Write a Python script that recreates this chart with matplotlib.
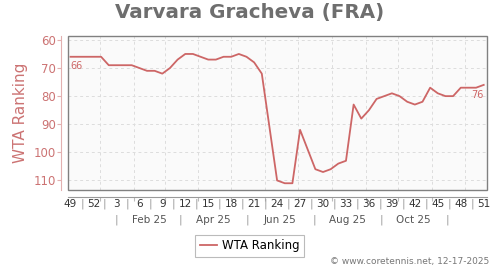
import matplotlib
matplotlib.use("Agg")
import matplotlib.pyplot as plt
import matplotlib.dates as mdates
from matplotlib.patches import Rectangle
from matplotlib.transforms import blended_transform_factory
import pandas as pd

player = "Varvara Gracheva (FRA)"
first_week = "2024-12-05"

ranking = [66, 66, 66, 66, 66, 69, 69, 69, 69, 70, 71, 71, 72,
           70, 67, 65, 65, 66, 67, 67, 66, 66, 65, 66, 68,
           72, 91, 110, 111, 111, 92, 99, 106, 107, 106, 104, 103,
           83, 88, 85, 81, 80, 79, 80, 82, 83, 82, 77, 79, 80, 80, 77, 77, 77, 76]

week_labels = ["49", "52", "3", "6", "9", "12", "15", "18", "21", "24",
               "27", "30", "33", "36", "39", "42", "45", "48", "51"]
month_labels = ["Feb 25", "Apr 25", "Jun 25", "Aug 25", "Oct 25"]
month_label_dates = ["2025-02-15", "2025-04-15", "2025-06-15", "2025-08-15", "2025-10-15"]
month_sep_dates = ["2025-01-16", "2025-03-16", "2025-05-16", "2025-07-16", "2025-09-15", "2025-11-15"]
y_ticks = [60, 70, 80, 90, 100, 110]

line_col = "#cd6666"
axis_red = "#cc7373"

dates = pd.date_range(first_week, periods=len(ranking), freq="7D")
xs = mdates.date2num(dates)

fig = plt.figure(figsize=(5, 2.7), dpi=100)
ax = fig.add_axes([0.1366, 0.2963, 0.8374, 0.5715])
ax.set_facecolor("#fafafa")

ax.plot(xs, ranking, color=line_col, lw=1.3, label="WTA Ranking", zorder=3)

ax.set_xlim(mdates.date2num(pd.Timestamp("2024-12-03")), mdates.date2num(pd.Timestamp("2025-12-21")))
ax.set_ylim(113.4, 58.5)

# grid
ax.xaxis.set_major_locator(mdates.MonthLocator())
ax.set_yticks(y_ticks)
ax.grid(True, ls=(0, (3, 3)), color="#dddddd", lw=0.7)
ax.set_axisbelow(True)

# axes styling
for s in ["top", "right"]:
    ax.spines[s].set_visible(False)
ax.spines["left"].set_position(("outward", 5))
ax.spines["left"].set_color("#e2b0b0")
ax.spines["bottom"].set_position(("outward", 5))
ax.spines["bottom"].set_color("#999999")
ax.add_patch(Rectangle((0, 0), 1, 1, transform=ax.transAxes, fill=False,
                       ec="#808080", lw=1.0, clip_on=False, zorder=4))

ax.tick_params(axis="y", colors="#e2b0b0", labelcolor=axis_red, labelsize=8.5, length=3, pad=1)
ax.tick_params(axis="x", colors="#bbbbbb", length=3, labelbottom=False)
ax.set_ylabel("WTA Ranking", color=axis_red, fontsize=11, labelpad=4)

# week labels with separators
tr = blended_transform_factory(ax.transData, ax.transAxes)
for k, lab in enumerate(week_labels):
    ax.text(xs[3 * k], -0.091, lab, transform=tr, ha="center", va="center",
            fontsize=7.5, color="#333333")
    if k < len(week_labels) - 1:
        ax.text((xs[3 * k] + xs[3 * k + 3]) / 2, -0.091, "|", transform=tr,
                ha="center", va="center", fontsize=7.5, color="#999999")
for d, lab in zip(month_label_dates, month_labels):
    ax.text(mdates.date2num(pd.Timestamp(d)), -0.194, lab, transform=tr,
            ha="center", va="center", fontsize=7.5, color="#555555")
for d in month_sep_dates:
    ax.text(mdates.date2num(pd.Timestamp(d)), -0.194, "|", transform=tr,
            ha="center", va="center", fontsize=7.5, color="#999999")

# first / last value annotations
ax.annotate(str(ranking[0]), (xs[0], ranking[0]), xytext=(0, -3), textcoords="offset points",
            ha="left", va="top", fontsize=7, color=line_col)
ax.annotate(str(ranking[-1]), (xs[-1], ranking[-1]), xytext=(0, -4), textcoords="offset points",
            ha="right", va="top", fontsize=7, color=line_col)

fig.suptitle(player, x=0.5, y=0.988, fontsize=14.3, fontweight="bold", color="#6e6e6e")

leg = fig.legend(loc="center", bbox_to_anchor=(0.4994, 0.089), fontsize=8.5,
                 frameon=True, fancybox=False, edgecolor="#aaaaaa",
                 handlelength=1.5, handletextpad=0.4, borderpad=0.4)
leg.get_frame().set_linewidth(0.8)

fig.text(0.978, 0.033, "\u00a9 www.coretennis.net, 12-17-2025", ha="right", va="center",
         fontsize=6.5, color="#777777")

fig.savefig("out.png", dpi=100)
